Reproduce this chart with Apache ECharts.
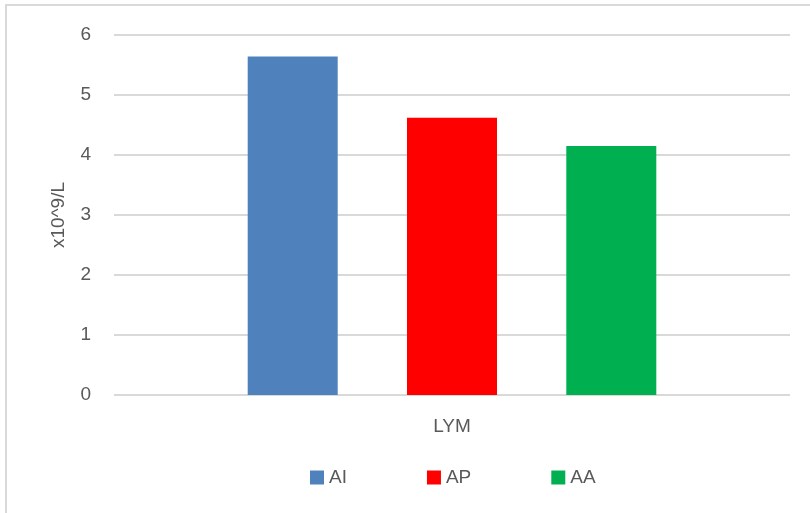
<!DOCTYPE html>
<html>
<head>
<meta charset="utf-8">
<script src="https://cdn.jsdelivr.net/npm/echarts@6/dist/echarts.min.js"></script>
<style>
  html, body { margin: 0; padding: 0; background: #fff; }
  #chart { width: 810px; height: 513px; }
</style>
</head>
<body>
<div id="chart"></div>
<script>
// data
var categories = ["LYM"];
var seriesNames = ["AI", "AP", "AA"];
var valuesAI = [5.64];
var valuesAP = [4.62];
var valuesAA = [4.15];
var colors = ["#4f81bd", "#ff0000", "#00b050"];

var myChart = echarts.init(document.getElementById("chart"));
var txt = "#595959";
var font = "Liberation Sans, Arial, sans-serif";

var option = {
  animation: false,
  textStyle: { fontFamily: font },
  // outer chart frame
  graphic: [{
    type: "rect",
    shape: { x: 6, y: 5, width: 820, height: 520 },
    style: { fill: "none", stroke: "#d9d9d9", lineWidth: 2 },
    silent: true
  }],
  grid: { left: 114, right: 20, top: 35, bottom: 118 },
  legend: {
    bottom: 21,
    left: 305,
    itemWidth: 14,
    itemHeight: 14,
    itemGap: 80,
    icon: "rect",
    textStyle: { color: txt, fontSize: 19, fontFamily: font },
    data: seriesNames
  },
  xAxis: {
    type: "category",
    data: categories,
    axisLine: { show: false },
    axisTick: { show: false },
    axisLabel: { color: txt, fontSize: 19, margin: 22, fontFamily: font }
  },
  yAxis: {
    type: "value",
    min: 0,
    max: 6,
    interval: 1,
    name: "x10^9/L",
    nameLocation: "middle",
    nameGap: 46,
    nameRotate: 90,
    nameTextStyle: { color: txt, fontSize: 19, fontFamily: font },
    axisLabel: { color: txt, fontSize: 19, margin: 23, fontFamily: font },
    axisLine: { show: false },
    axisTick: { show: false },
    splitLine: { lineStyle: { color: "#d9d9d9", width: 2 } }
  },
  series: [
    { name: seriesNames[0], type: "bar", data: valuesAI, barWidth: 90, barGap: "77%", itemStyle: { color: colors[0] } },
    { name: seriesNames[1], type: "bar", data: valuesAP, barWidth: 90, barGap: "77%", itemStyle: { color: colors[1] } },
    { name: seriesNames[2], type: "bar", data: valuesAA, barWidth: 90, barGap: "77%", itemStyle: { color: colors[2] } }
  ]
};
myChart.setOption(option);
</script>
</body>
</html>
